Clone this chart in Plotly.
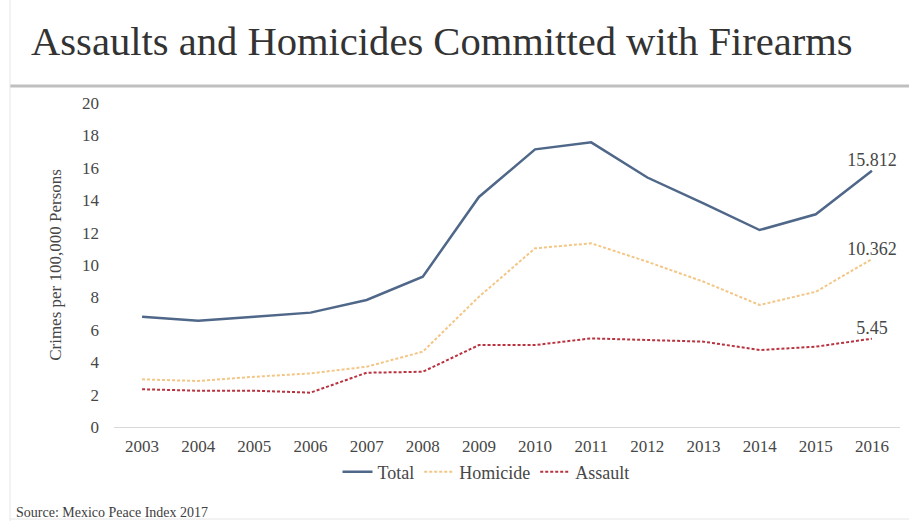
import plotly.graph_objects as go

years = [str(y) for y in range(2003, 2017)]
total = [6.81, 6.56, 6.80, 7.06, 7.84, 9.28, 14.2, 17.14, 17.57, 15.4, 13.8, 12.16, 13.13, 15.812]
homicide = [2.94, 2.84, 3.10, 3.31, 3.72, 4.65, 8.04, 11.03, 11.34, 10.2, 8.97, 7.53, 8.35, 10.362]
assault = [2.33, 2.24, 2.24, 2.12, 3.35, 3.41, 5.06, 5.06, 5.47, 5.38, 5.27, 4.75, 4.96, 5.45]
end_labels = ["15.812", "10.362", "5.45"]

FONT = "Liberation Serif, Times New Roman, serif"
TXT = "#474747"

def end_text(lbl, n):
    return [""] * (n - 1) + [lbl]

fig = go.Figure()
fig.add_trace(go.Scatter(x=years, y=total, name="Total", mode="lines+text",
                         line=dict(color="#4F6788", width=2.5),
                         text=end_text(end_labels[0], len(years)), textposition="top center",
                         textfont=dict(family=FONT, size=18, color=TXT)))
fig.add_trace(go.Scatter(x=years, y=homicide, name="Homicide", mode="lines+text",
                         line=dict(color="#F3C686", width=2, dash="3px,2px"),
                         text=end_text(end_labels[1], len(years)), textposition="top center",
                         textfont=dict(family=FONT, size=18, color=TXT)))
fig.add_trace(go.Scatter(x=years, y=assault, name="Assault", mode="lines+text",
                         line=dict(color="#B8333F", width=2, dash="3px,2px"),
                         text=end_text(end_labels[2], len(years)), textposition="top center",
                         textfont=dict(family=FONT, size=18, color=TXT)))

fig.update_layout(
    width=909, height=521,
    margin=dict(l=114, r=9, t=103, b=94),
    paper_bgcolor="white", plot_bgcolor="white",
    font=dict(family=FONT, color=TXT),
    title=dict(text="Assaults and Homicides Committed with Firearms",
               font=dict(family=FONT, size=40.6, color="#333333"),
               x=31/909, xanchor="left", xref="container",
               y=1-41/521, yanchor="middle", yref="container"),
    xaxis=dict(type="category", range=[-0.5, 13.5], showgrid=False,
               showline=True, linecolor="#D9D9D9", linewidth=1,
               ticks="", ticklabelstandoff=4,
               tickfont=dict(family=FONT, size=17, color=TXT),
               zeroline=False),
    yaxis=dict(range=[0, 20], dtick=2, showgrid=False, zeroline=False,
               showline=False, ticks="", ticklabelstandoff=14,
               tickfont=dict(family=FONT, size=17, color=TXT),
               title=dict(text="Crimes per 100,000 Persons",
                          font=dict(family=FONT, size=17, color=TXT),
                          standoff=16)),
    legend=dict(orientation="h", x=(486-114)/786, xanchor="center", y=-0.139, yanchor="middle",
                font=dict(family=FONT, size=18, color=TXT),
                itemwidth=30, tracegroupgap=0, bgcolor="rgba(0,0,0,0)"),
    showlegend=True,
)

fig.add_annotation(text="Source: Mexico Peace Index 2017", xref="paper", yref="paper",
                   x=(14-114)/786, y=(427-512)/324, xanchor="left", yanchor="middle",
                   showarrow=False, font=dict(family=FONT, size=14, color="#404040"))

# separator line below title and slide border
fig.add_shape(type="line", xref="paper", yref="paper",
              x0=(10-114)/786, x1=(909-114)/786, y0=(427-86)/324, y1=(427-86)/324,
              line=dict(color="#BFBFBF", width=3))
fig.add_shape(type="line", xref="paper", yref="paper",
              x0=(10-114)/786, x1=(10-114)/786, y0=(427-521)/324, y1=(427-0)/324,
              line=dict(color="#E6E6E6", width=1))
fig.add_shape(type="line", xref="paper", yref="paper",
              x0=(10-114)/786, x1=(909-114)/786, y0=(427-519)/324, y1=(427-519)/324,
              line=dict(color="#E6E6E6", width=1))

fig.write_html("out.html")
